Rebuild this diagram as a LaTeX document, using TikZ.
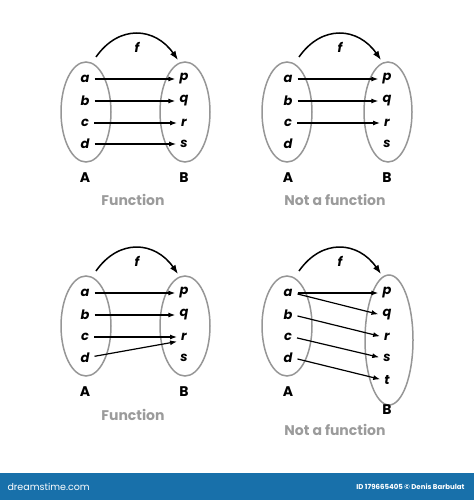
\documentclass[tikz,border=0pt]{standalone}
\usepackage{fontspec}
\setmainfont{Poppins}
\usetikzlibrary{arrows.meta}
\definecolor{setgray}{RGB}{150,150,150}
\definecolor{capgray}{RGB}{155,155,155}
\definecolor{barblue}{RGB}{24,112,170}

\begin{document}
\begin{tikzpicture}[x=1pt,y=-1pt,
  elem/.style={font=\fontsize{13}{13}\selectfont\bfseries\itshape,inner sep=1pt},
  setname/.style={font=\fontsize{14}{14}\selectfont\bfseries},
  caption/.style={font=\fontsize{14}{14}\selectfont\bfseries,text=capgray},
  setline/.style={draw=setgray,line width=1.5pt},
  map/.style={-{Latex[length=7pt,width=5pt]},line width=1.2pt,shorten <=4pt,shorten >=3pt},
  fmap/.style={-{Latex[length=9pt,width=6.5pt]},line width=1.5pt}]
\useasboundingbox (0,0) rectangle (474,500);
% top left: function
\begin{scope}
\draw[setline] (86,112) ellipse (25pt and 50pt);
\draw[setline] (185,112) ellipse (25pt and 50pt);
\node[elem] (a1) at (85,79) {a};
\node[elem] (b1) at (85,101) {b};
\node[elem] (c1) at (85,123) {c};
\node[elem] (d1) at (85,144) {d};
\node[elem] (p1) at (184,79) {p};
\node[elem] (q1) at (184,101) {q};
\node[elem] (r1) at (184,123) {r};
\node[elem] (s1) at (184,144) {s};
\node[setname] (A1) at (85,178) {A};
\node[setname] (B1) at (184,178) {B};
\node[caption] (cap1) at (133,200) {Function};
\coordinate (fs1) at (96,57);
\coordinate (fe1) at (178,60);
\draw[fmap] (fs1) to[out=55,in=125,looseness=1.25] node[elem,below=7pt] (f1) {f} (fe1);
\draw[map] (a1) -- (p1);
\draw[map] (b1) -- (q1);
\draw[map] (c1) -- (r1);
\draw[map] (d1) -- (s1);
\end{scope}
% top right: not a function
\begin{scope}[shift={(201,0)}]
\draw[setline] (86,112) ellipse (25pt and 50pt);
\draw[setline] (187,112) ellipse (24pt and 50pt);
\node[elem] (a2) at (87,79) {a};
\node[elem] (b2) at (87,101) {b};
\node[elem] (c2) at (87,123) {c};
\node[elem] (d2) at (87,144) {d};
\node[elem] (p2) at (186,79) {p};
\node[elem] (q2) at (186,101) {q};
\node[elem] (r2) at (186,123) {r};
\node[elem] (s2) at (186,144) {s};
\node[setname] (A2) at (87,178) {A};
\node[setname] (B2) at (186,178) {B};
\node[caption] (cap2) at (134,200) {Not a function};
\coordinate (fs2) at (98,57);
\coordinate (fe2) at (180,60);
\draw[fmap] (fs2) to[out=55,in=125,looseness=1.25] node[elem,below=7pt] (f2) {f} (fe2);
\draw[map] (a2) -- (p2);
\draw[map] (b2) -- (q2);
\draw[map] (c2) -- (r2);
\end{scope}
% bottom left: function
\begin{scope}[shift={(0,214)}]
\draw[setline] (86,112) ellipse (25pt and 50pt);
\draw[setline] (185,112) ellipse (25pt and 50pt);
\node[elem] (a3) at (85,79) {a};
\node[elem] (b3) at (85,101) {b};
\node[elem] (c3) at (85,123) {c};
\node[elem] (d3) at (85,144) {d};
\node[elem] (p3) at (184,79) {p};
\node[elem] (q3) at (184,101) {q};
\node[elem] (r3) at (184,123) {r};
\node[elem] (s3) at (184,144) {s};
\node[setname] (A3) at (85,178) {A};
\node[setname] (B3) at (184,178) {B};
\node[caption] (cap3) at (133,201) {Function};
\coordinate (fs3) at (96,57);
\coordinate (fe3) at (178,60);
\draw[fmap] (fs3) to[out=55,in=125,looseness=1.25] node[elem,below=7pt] (f3) {f} (fe3);
\draw[map] (a3) -- (p3);
\draw[map] (b3) -- (q3);
\draw[map] (c3) -- (r3);
\draw[map] (d3) -- ([yshift=-4pt]r3.west);
\end{scope}
% bottom right: not a function
\begin{scope}[shift={(201,214)}]
\draw[setline] (86,112) ellipse (25pt and 50pt);
\draw[setline] (188,126) ellipse (24pt and 65pt);
\node[elem] (a4) at (87,79) {a};
\node[elem] (b4) at (87,101) {b};
\node[elem] (c4) at (87,123) {c};
\node[elem] (d4) at (87,144) {d};
\node[elem] (p4) at (186,79) {p};
\node[elem] (q4) at (186,101) {q};
\node[elem] (r4) at (186,123) {r};
\node[elem] (s4) at (186,144) {s};
\node[elem] (t4) at (186,166) {t};
\node[setname] (A4) at (87,178) {A};
\node[setname] (B4) at (186,196) {B};
\node[caption] (cap4) at (134,216) {Not a function};
\coordinate (fs4) at (98,57);
\coordinate (fe4) at (180,60);
\draw[fmap] (fs4) to[out=55,in=125,looseness=1.25] node[elem,below=7pt] (f4) {f} (fe4);
\draw[map] (a4.east) -- (p4.west);
\draw[map] (a4.east) -- (q4.west);
\draw[map] (b4.east) -- (r4.west);
\draw[map] (c4.east) -- (s4.west);
\draw[map] (d4.east) -- (t4.west);
\end{scope}
% banner
\fill[barblue] (0,473) rectangle (474,500);
\node[anchor=west,text=white,font=\fontsize{9.5}{9.5}\selectfont] (site) at (4,487) {dreamstime.com};
\node[anchor=east,text=white,font=\fontsize{7}{7}\selectfont\bfseries] (credit) at (468,487) {ID 179665405 © Denis Barbulat};
\end{tikzpicture}
\end{document}
